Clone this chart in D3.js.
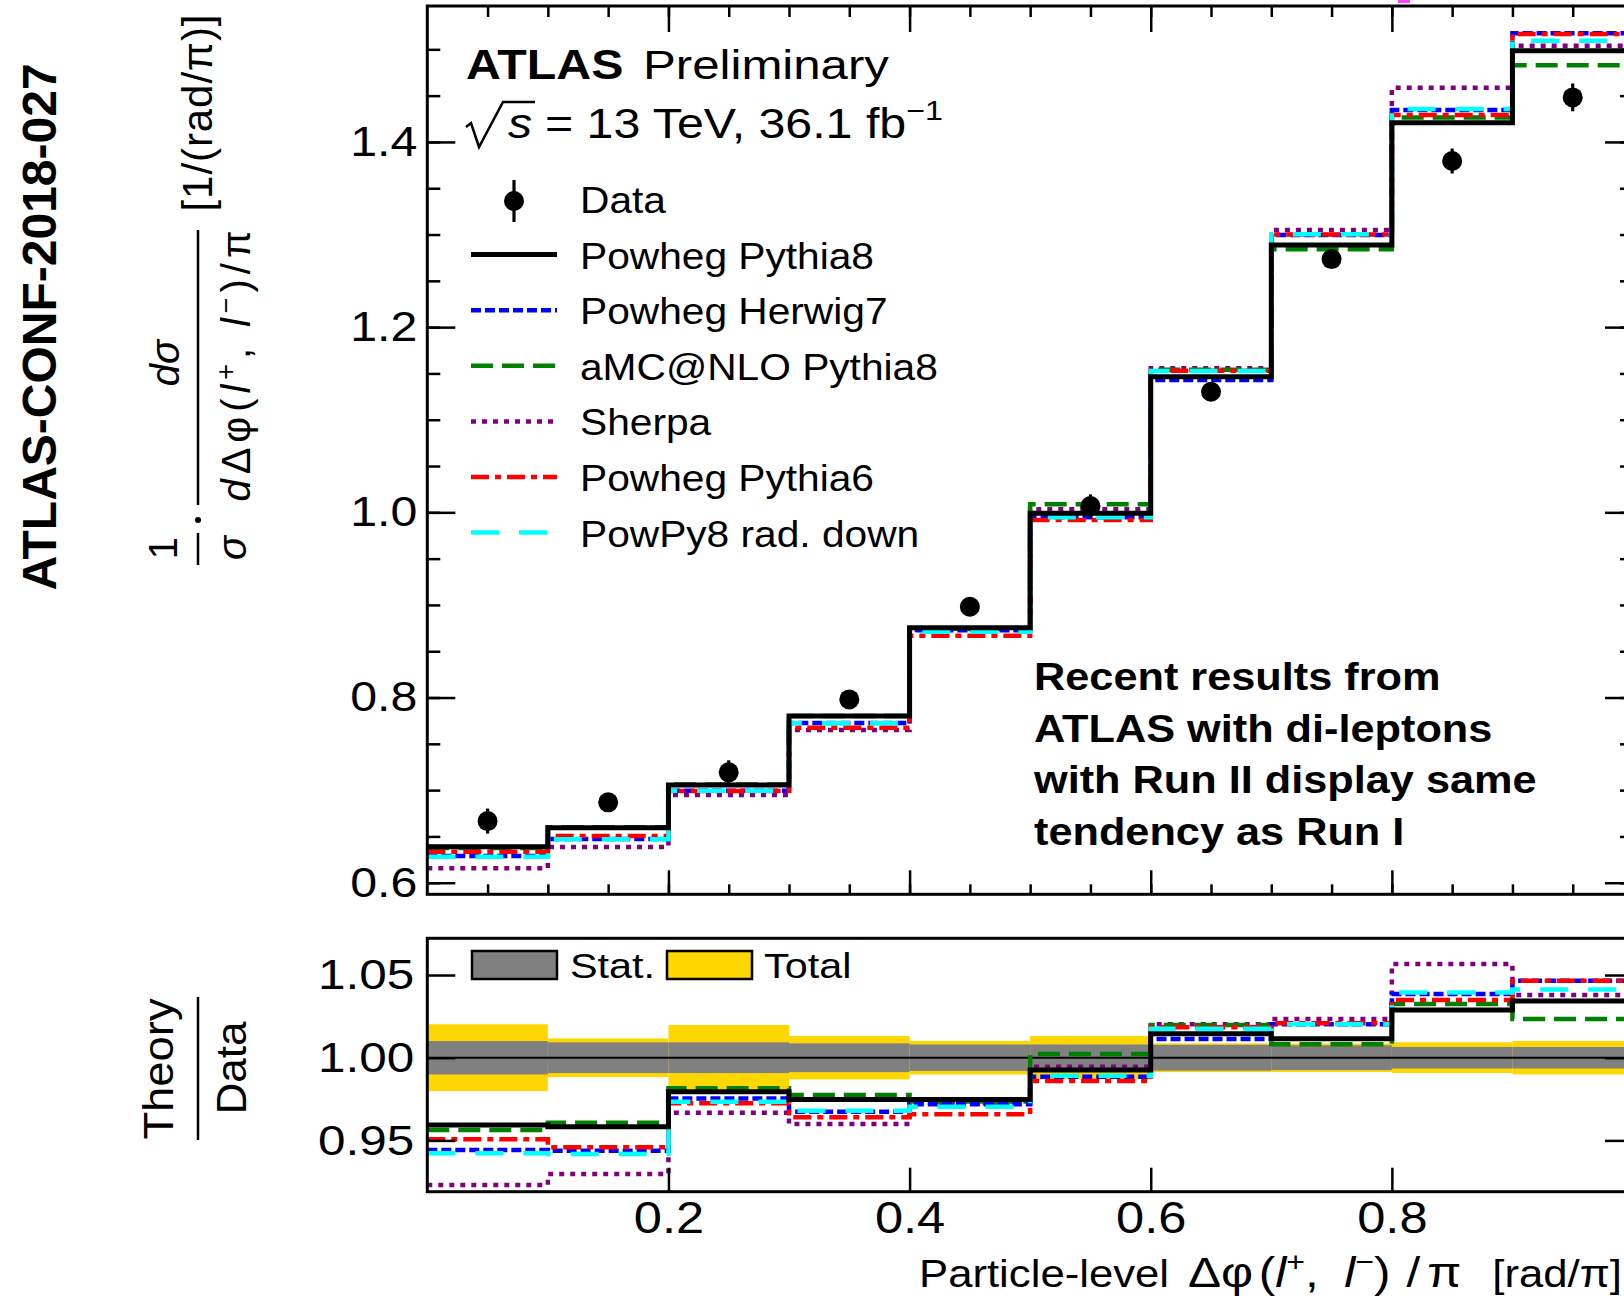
<!DOCTYPE html>
<html>
<head>
<meta charset="utf-8">
<script src="https://cdn.jsdelivr.net/npm/d3@7"></script>
<style>
  html, body { margin: 0; padding: 0; background: #fff; }
  svg { display: block; }
  text { font-family: "Liberation Sans", Arial, Helvetica, sans-serif; fill: #000; }
</style>
</head>
<body>
<svg id="chart" width="1624" height="1299"></svg>
<script>
// ---- Δφ(l+, l−)/π binning ----
const binEdges = [0, 0.1, 0.2, 0.3, 0.4, 0.5, 0.6, 0.7, 0.8, 0.9, 1.0];

// ---- normalised differential cross-section, data ----
const dataValues = [0.6666, 0.6868, 0.7192, 0.7980, 0.8980, 1.0068, 1.1302, 1.2735, 1.3794, 1.4481];
const dataErrors = [0.0135, 0.0080, 0.0130, 0.0090, 0.0090, 0.0126, 0.0090, 0.0090, 0.0135, 0.0150];

// ---- predictions ----
const powhegPythia8  = [0.6389, 0.6594, 0.7055, 0.7800, 0.8754, 0.9989, 1.1464, 1.2886, 1.4207, 1.4985];
const powhegHerwig7  = [0.6288, 0.6472, 0.6994, 0.7724, 0.8727, 0.9946, 1.1429, 1.2995, 1.4344, 1.5173];
const amcNloPythia8  = [0.6375, 0.6598, 0.7060, 0.7800, 0.8742, 1.0086, 1.1540, 1.2840, 1.4265, 1.4827];
const sherpa         = [0.6155, 0.6385, 0.6947, 0.7649, 0.8732, 1.0032, 1.1555, 1.3049, 1.4585, 1.5039];
const powhegPythia6  = [0.6335, 0.6504, 0.6990, 0.7674, 0.8667, 0.9917, 1.1529, 1.3000, 1.4290, 1.5165];
const powPy8RadDown  = [0.6280, 0.6469, 0.6994, 0.7721, 0.8710, 0.9946, 1.1526, 1.3002, 1.4355, 1.5093];

// ---- theory / data ----
const ratioPowhegPythia8 = [0.9593, 0.9583, 0.9795, 0.9748, 0.9748, 0.9926, 1.0145, 1.0115, 1.0288, 1.0343];
const ratioPowhegHerwig7 = [0.9442, 0.9438, 0.9754, 0.9674, 0.9718, 0.9885, 1.0113, 1.0202, 1.0385, 1.0466];
const ratioAmcNloPythia8 = [0.9563, 0.9607, 0.9815, 0.9774, 0.9735, 1.0022, 1.0198, 1.0081, 1.0325, 1.0234];
const ratioSherpa        = [0.9230, 0.9297, 0.9668, 0.9599, 0.9724, 0.9946, 1.0202, 1.0234, 1.0567, 1.0379];
const ratioPowhegPythia6 = [0.9507, 0.9458, 0.9724, 0.9640, 0.9658, 0.9859, 1.0184, 1.0208, 1.0349, 1.0466];
const ratioPowPy8RadDown = [0.9422, 0.9418, 0.9734, 0.9680, 0.9704, 0.9891, 1.0175, 1.0202, 1.0395, 1.0413];

// relative uncertainties of the data (half-widths of the bands)
const statUncertainty  = [0.0101, 0.0093, 0.0093, 0.0087, 0.0080, 0.0080, 0.0078, 0.0075, 0.0065, 0.0065];
const totalUncertainty = [0.0202, 0.0117, 0.0198, 0.0131, 0.0101, 0.0131, 0.0087, 0.0086, 0.0093, 0.0101];

// ---- labels ----
const seriesNames = ["Powheg Pythia8", "Powheg Herwig7", "aMC@NLO Pythia8", "Sherpa", "Powheg Pythia6", "PowPy8 rad. down"];
const mainYTicks = [0.6, 0.8, 1.0, 1.2, 1.4];
const mainYTickLabels = ["0.6", "0.8", "1.0", "1.2", "1.4"];
const ratioYTicks = [0.95, 1.0, 1.05];
const ratioYTickLabels = ["0.95", "1.00", "1.05"];
const xTicks = [0.2, 0.4, 0.6, 0.8, 1.0];
const xLabelTicks = [0.2, 0.4, 0.6, 0.8];
const xTickLabels = ["0.2", "0.4", "0.6", "0.8"];
const annotationLines = ["Recent results from", "ATLAS with di-leptons", "with Run II display same", "tendency as Run I"];
const bandLabels = ["Stat.", "Total"];

// ---- assemble series ----
const mainSeries = {
  "Powheg Pythia8": powhegPythia8, "Powheg Herwig7": powhegHerwig7, "aMC@NLO Pythia8": amcNloPythia8,
  "Sherpa": sherpa, "Powheg Pythia6": powhegPythia6, "PowPy8 rad. down": powPy8RadDown
};
const ratioSeries = {
  "Powheg Pythia8": ratioPowhegPythia8, "Powheg Herwig7": ratioPowhegHerwig7, "aMC@NLO Pythia8": ratioAmcNloPythia8,
  "Sherpa": ratioSherpa, "Powheg Pythia6": ratioPowhegPythia6, "PowPy8 rad. down": ratioPowPy8RadDown
};

// line styles per generator
const seriesStyle = {
  "Powheg Pythia8":   { color: "#000000", width: 5,   dash: null },
  "Powheg Herwig7":   { color: "#0000ff", width: 4.5, dash: "10,4" },
  "aMC@NLO Pythia8":  { color: "#008000", width: 4.5, dash: "22,9" },
  "Sherpa":           { color: "#800080", width: 4.5, dash: "5,6" },
  "Powheg Pythia6":   { color: "#ff0000", width: 4.5, dash: "18,6,6,6" },
  "PowPy8 rad. down": { color: "#00ffff", width: 4.5, dash: "28,20" }
};
// drawing order (last on top)
const drawOrder = ["Sherpa", "aMC@NLO Pythia8", "Powheg Herwig7", "Powheg Pythia6", "PowPy8 rad. down", "Powheg Pythia8"];

// ---- geometry ----
const plotLeft = 427.3, plotRight = 1633;
const mainTop = 6, mainBottom = 894.3;
const ratioTop = 938.3, ratioBottom = 1191.7;
const SX = 1.15; // horizontal glyph stretch of the label font
const FONT = '"Liberation Sans", Arial, Helvetica, sans-serif';

const svg = d3.select("#chart");
const x = d3.scaleLinear().domain([0, 1]).range([plotLeft, plotRight]);
const yMain = d3.scaleLinear().domain([0.5875, 1.5468]).range([mainBottom, mainTop]);
const yRatio = d3.scaleLinear().domain([0.919, 1.0722]).range([ratioBottom, ratioTop]);

function stepPoints(values) {
  const pts = values.map((v, i) => [binEdges[i], v]);
  pts.push([binEdges[values.length], values[values.length - 1]]);
  return pts;
}
const minorOf = (lo, hi, step) => d3.range(Math.round(lo / step), Math.round(hi / step) + 1).map(k => +(k * step).toFixed(4));

function styleAxis(g, size, sx) {
  g.attr("font-family", FONT).attr("font-size", size);
  g.select(".domain").remove();
  g.selectAll(".tick line").attr("stroke", "#000").attr("stroke-width", 2.5);
  g.selectAll(".tick text").attr("fill", "#000").each(function () {
    const t = d3.select(this);
    const tx = +t.attr("x") || 0, ty = +t.attr("y") || 0;
    t.attr("x", 0).attr("y", 0).attr("transform", `translate(${tx},${ty}) scale(${sx},1)`);
  });
}

// text helper with horizontal stretch and optional rotation
function label(parent, px, py, opts) {
  const t = parent.append("text")
    .attr("transform", `translate(${px},${py}) rotate(${opts.rotate || 0}) scale(${opts.sx == null ? SX : opts.sx},1)`)
    .attr("text-anchor", opts.anchor || "start")
    .attr("font-size", opts.size)
    .attr("font-weight", opts.weight || "normal");
  if (opts.style) t.attr("font-style", opts.style);
  if (opts.text != null) t.text(opts.text);
  if (opts.length) t.attr("textLength", opts.length).attr("lengthAdjust", "spacing");
  return t;
}
function addSpans(t, parts) {
  parts.forEach(p => {
    const s = t.append("tspan").text(p.t);
    if (p.italic) s.attr("font-style", "italic");
    if (p.size) s.attr("font-size", p.size);
    if (p.dy) s.attr("dy", p.dy);
    if (p.dx) s.attr("dx", p.dx);
  });
  return t;
}

// ================= upper pad =================
const main = svg.append("g");
main.append("rect").attr("x", plotLeft).attr("y", mainTop)
  .attr("width", plotRight - plotLeft).attr("height", mainBottom - mainTop).attr("fill", "#fff");

const lineMain = d3.line().x(d => x(d[0])).y(d => yMain(d[1])).curve(d3.curveStepAfter);
drawOrder.forEach(name => {
  const st = seriesStyle[name];
  main.append("path").attr("d", lineMain(stepPoints(mainSeries[name])))
    .attr("fill", "none").attr("stroke", st.color).attr("stroke-width", st.width)
    .attr("stroke-dasharray", st.dash).attr("stroke-linejoin", "miter");
});

// data points
const centers = dataValues.map((v, i) => (binEdges[i] + binEdges[i + 1]) / 2);
const pts = main.append("g");
dataValues.forEach((v, i) => {
  pts.append("line").attr("x1", x(centers[i])).attr("x2", x(centers[i]))
    .attr("y1", yMain(v - dataErrors[i])).attr("y2", yMain(v + dataErrors[i]))
    .attr("stroke", "#000").attr("stroke-width", 3.2);
  pts.append("circle").attr("cx", x(centers[i])).attr("cy", yMain(v)).attr("r", 10).attr("fill", "#000");
});

// frame
main.append("rect").attr("x", plotLeft).attr("y", mainTop)
  .attr("width", plotRight - plotLeft).attr("height", mainBottom - mainTop)
  .attr("fill", "none").attr("stroke", "#000").attr("stroke-width", 3);

// axes of the upper pad
const mainMinorY = minorOf(0.6, 1.5, 0.05);
const xMinor = minorOf(0.05, 0.95, 0.05);
main.append("g").attr("transform", `translate(${plotLeft},0)`)
  .call(d3.axisLeft(yMain).tickValues(mainMinorY).tickSizeInner(-13).tickSizeOuter(0).tickFormat(""))
  .call(g => styleAxis(g, 42, SX));
main.append("g").attr("transform", `translate(${plotLeft},0)`)
  .call(d3.axisLeft(yMain).tickValues(mainYTicks).tickSizeInner(-28).tickSizeOuter(0).tickPadding(10)
    .tickFormat((d, i) => mainYTickLabels[i]))
  .call(g => styleAxis(g, 42, SX));
main.append("g").attr("transform", `translate(${plotRight},0)`)
  .call(d3.axisRight(yMain).tickValues(mainMinorY).tickSizeInner(-13).tickSizeOuter(0).tickFormat(""))
  .call(g => styleAxis(g, 42, SX));
main.append("g").attr("transform", `translate(${plotRight},0)`)
  .call(d3.axisRight(yMain).tickValues(mainYTicks).tickSizeInner(-28).tickSizeOuter(0).tickFormat(""))
  .call(g => styleAxis(g, 42, SX));
main.append("g").attr("transform", `translate(0,${mainBottom})`)
  .call(d3.axisBottom(x).tickValues(xMinor).tickSizeInner(-10).tickSizeOuter(0).tickFormat(""))
  .call(g => styleAxis(g, 42, SX));
main.append("g").attr("transform", `translate(0,${mainBottom})`)
  .call(d3.axisBottom(x).tickValues(xTicks).tickSizeInner(-24).tickSizeOuter(0).tickFormat(""))
  .call(g => styleAxis(g, 42, SX));
main.append("g").attr("transform", `translate(0,${mainTop})`)
  .call(d3.axisTop(x).tickValues(xMinor).tickSizeInner(-11).tickSizeOuter(0).tickFormat(""))
  .call(g => styleAxis(g, 42, SX));
main.append("g").attr("transform", `translate(0,${mainTop})`)
  .call(d3.axisTop(x).tickValues(xTicks).tickSizeInner(-26).tickSizeOuter(0).tickFormat(""))
  .call(g => styleAxis(g, 42, SX));

// ATLAS label
label(main, 466, 78.5, { size: 42, weight: "bold", text: "ATLAS" });
label(main, 643, 78.5, { size: 41, sx: 1.2, text: "Preliminary" });
main.append("path").attr("d", "M466,127 L471,123 L479,147 L503,102 L535,102")
  .attr("fill", "none").attr("stroke", "#000").attr("stroke-width", 2.5);
label(main, 508, 138, { size: 42, style: "italic", text: "s" });
addSpans(label(main, 545, 138, { size: 42 }), [
  { t: "= 13 TeV, 36.1 fb" }, { t: "\u22121", size: 28, dy: -18 }
]);

// legend of the upper pad
const legX0 = 471, legX1 = 557, legTextX = 580, legBase0 = 213, legStep = 55.6;
const legend = main.append("g");
legend.append("line").attr("x1", 514).attr("x2", 514).attr("y1", legBase0 - 33).attr("y2", legBase0 + 9)
  .attr("stroke", "#000").attr("stroke-width", 3.2);
legend.append("circle").attr("cx", 514).attr("cy", legBase0 - 12).attr("r", 10).attr("fill", "#000");
label(legend, legTextX, legBase0, { size: 37, sx: 1.1, text: "Data" });
seriesNames.forEach((name, i) => {
  const base = legBase0 + legStep * (i + 1);
  const st = seriesStyle[name];
  legend.append("line").attr("x1", legX0).attr("x2", legX1).attr("y1", base - 14).attr("y2", base - 14)
    .attr("stroke", st.color).attr("stroke-width", st.width).attr("stroke-dasharray", st.dash);
  label(legend, legTextX, base, { size: 37, sx: 1.1, text: name });
});

// annotation
annotationLines.forEach((line, i) => {
  label(main, 1034, 690 + 51.7 * i, { size: 39, sx: 1.11, weight: "bold", text: line });
});

// ================= lower pad =================
const ratio = svg.append("g");
ratio.append("rect").attr("x", plotLeft).attr("y", ratioTop)
  .attr("width", plotRight - plotLeft).attr("height", ratioBottom - ratioTop).attr("fill", "#fff");

totalUncertainty.forEach((u, i) => {
  ratio.append("rect").attr("x", x(binEdges[i])).attr("width", x(binEdges[i + 1]) - x(binEdges[i]))
    .attr("y", yRatio(1 + u)).attr("height", yRatio(1 - u) - yRatio(1 + u)).attr("fill", "#ffd700");
});
statUncertainty.forEach((u, i) => {
  ratio.append("rect").attr("x", x(binEdges[i])).attr("width", x(binEdges[i + 1]) - x(binEdges[i]))
    .attr("y", yRatio(1 + u)).attr("height", yRatio(1 - u) - yRatio(1 + u)).attr("fill", "#808080");
});
ratio.append("line").attr("x1", plotLeft).attr("x2", plotRight).attr("y1", yRatio(1)).attr("y2", yRatio(1))
  .attr("stroke", "#000").attr("stroke-width", 2);

const lineRatio = d3.line().x(d => x(d[0])).y(d => yRatio(d[1])).curve(d3.curveStepAfter);
drawOrder.forEach(name => {
  const st = seriesStyle[name];
  ratio.append("path").attr("d", lineRatio(stepPoints(ratioSeries[name])))
    .attr("fill", "none").attr("stroke", st.color).attr("stroke-width", st.width)
    .attr("stroke-dasharray", st.dash);
});

ratio.append("rect").attr("x", plotLeft).attr("y", ratioTop)
  .attr("width", plotRight - plotLeft).attr("height", ratioBottom - ratioTop)
  .attr("fill", "none").attr("stroke", "#000").attr("stroke-width", 3);

ratio.append("g").attr("transform", `translate(${plotLeft},0)`)
  .call(d3.axisLeft(yRatio).tickValues(ratioYTicks).tickSizeInner(-28).tickSizeOuter(0).tickPadding(13)
    .tickFormat((d, i) => ratioYTickLabels[i]))
  .call(g => styleAxis(g, 43, SX));
ratio.append("g").attr("transform", `translate(${plotRight},0)`)
  .call(d3.axisRight(yRatio).tickValues(ratioYTicks).tickSizeInner(-28).tickSizeOuter(0).tickFormat(""))
  .call(g => styleAxis(g, 43, SX));
ratio.append("g").attr("transform", `translate(0,${ratioBottom})`)
  .call(d3.axisBottom(x).tickValues(xTicks).tickSizeInner(-24).tickSizeOuter(0).tickFormat(""))
  .call(g => styleAxis(g, 44, SX));
ratio.append("g").attr("transform", `translate(0,${ratioBottom})`)
  .call(d3.axisBottom(x).tickValues(xLabelTicks).tickSizeInner(0).tickSizeOuter(0).tickPadding(10)
    .tickFormat((d, i) => xTickLabels[i]))
  .call(g => styleAxis(g, 44, SX));

// band legend
const bandLeg = ratio.append("g");
[["#808080", 472, 570], ["#ffd700", 667, 764]].forEach(([fill, bx, tx], i) => {
  bandLeg.append("rect").attr("x", bx).attr("y", 951).attr("width", 85).attr("height", 28)
    .attr("fill", fill).attr("stroke", "#000").attr("stroke-width", 2.5);
  label(bandLeg, tx, 978, { size: 36, text: bandLabels[i] });
});

// ================= axis titles =================
const titles = svg.append("g");
// x title
label(titles, 919, 1287, { size: 38, text: "Particle-level" });
addSpans(label(titles, 1188, 1287, { size: 43 }), [
  { t: "\u0394\u03c6" }, { t: "(", dx: 5 }, { t: "l", italic: true }, { t: "+", size: 28, dy: -16 }, { t: ",", dy: 16 },
  { t: "l", italic: true, dx: 22 }, { t: "\u2212", size: 28, dy: -16 }, { t: ")", dy: 16 },
  { t: "/", dx: 14 }, { t: "\u03c0", dx: 6 }
]);
label(titles, 1622, 1287, { size: 38, anchor: "end", text: "[rad/\u03c0]" });

// y title of the upper pad
label(titles, 177, 548, { size: 40, rotate: -90, sx: 1, anchor: "middle", text: "1" });
label(titles, 246, 548, { size: 40, rotate: -90, sx: 1, anchor: "middle", style: "italic", text: "\u03c3" });
titles.append("line").attr("x1", 198).attr("x2", 198).attr("y1", 533).attr("y2", 565).attr("stroke", "#000").attr("stroke-width", 2.5);
titles.append("circle").attr("cx", 198).attr("cy", 520).attr("r", 3).attr("fill", "#000");
label(titles, 179, 363, { size: 40, rotate: -90, sx: 1, anchor: "middle", style: "italic", text: "d\u03c3" });
titles.append("line").attr("x1", 198).attr("x2", 198).attr("y1", 230).attr("y2", 505).attr("stroke", "#000").attr("stroke-width", 2.5);
addSpans(label(titles, 250, 366, { size: 40, rotate: -90, sx: 1, anchor: "middle", length: 271 }), [
  { t: "d", italic: true }, { t: "\u0394\u03c6(" }, { t: "l", italic: true }, { t: "+", size: 27, dy: -15 },
  { t: ", ", dy: 15 }, { t: "l", italic: true }, { t: "\u2212", size: 27, dy: -15 }, { t: ")/\u03c0", dy: 15 }
]);
label(titles, 212, 113, { size: 42, rotate: -90, sx: 1, anchor: "middle", length: 197, text: "[1/(rad/\u03c0)]" });

// y title of the lower pad
label(titles, 173, 1069, { size: 42, rotate: -90, sx: 1.08, anchor: "middle", text: "Theory" });
titles.append("line").attr("x1", 198).attr("x2", 198).attr("y1", 997).attr("y2", 1140).attr("stroke", "#000").attr("stroke-width", 2.5);
label(titles, 246, 1068, { size: 42, rotate: -90, sx: 1.05, anchor: "middle", text: "Data" });

// document reference
label(titles, 56, 327, { size: 48, rotate: -90, sx: 1, anchor: "middle", weight: "bold", text: "ATLAS-CONF-2018-027" });

// small magenta fragment at the top edge
svg.append("rect").attr("x", 1398).attr("y", 0).attr("width", 12).attr("height", 3).attr("fill", "#ff40ff");
</script>
</body>
</html>
